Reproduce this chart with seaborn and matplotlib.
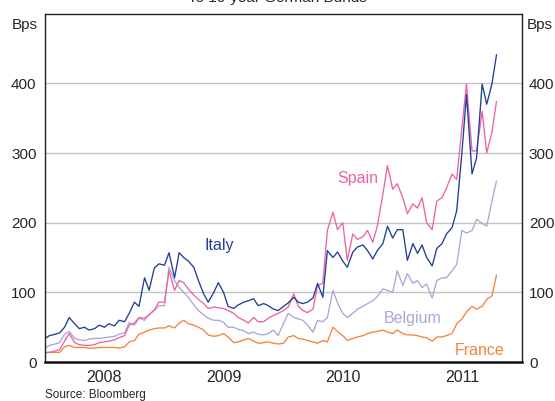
import pandas as pd
import matplotlib.pyplot as plt
import matplotlib.dates as mdates
import seaborn as sns

# Spreads to 10-year German Bunds (bps), half-monthly readings
datas = pd.date_range('2008-01-01', periods=92, freq='SMS')

italia = [34, 38, 40, 42, 50, 64, 55, 48, 50, 46, 48, 53, 50, 55, 52, 60, 58, 70, 86, 80,
          121, 103, 135, 141, 139, 157, 121, 157, 150, 145, 136, 117, 98, 86, 100, 114, 100, 80, 77, 82,
          86, 88, 91, 81, 84, 81, 76, 74, 80, 85, 93, 86, 84, 86, 92, 113, 93, 160, 150, 158,
          145, 136, 158, 165, 168, 160, 148, 160, 170, 195, 178, 190, 190, 146, 170, 156, 168, 150, 138, 163,
          170, 184, 193, 217, 300, 384, 270, 293, 399, 370, 399, 441]
espanha = [14, 14, 16, 18, 30, 41, 28, 25, 24, 24, 25, 28, 29, 30, 32, 35, 38, 53, 56, 64,
           63, 68, 75, 86, 86, 131, 103, 117, 114, 105, 96, 90, 84, 77, 79, 78, 77, 74, 70, 64,
           60, 56, 64, 58, 58, 63, 67, 70, 74, 79, 98, 80, 74, 71, 76, 110, 113, 189, 215, 190,
           200, 146, 184, 176, 180, 189, 172, 195, 241, 282, 248, 256, 236, 213, 227, 221, 236, 200, 190, 231,
           236, 250, 270, 262, 336, 399, 303, 303, 360, 300, 330, 374]
belgica = [20, 24, 26, 28, 40, 44, 34, 32, 31, 33, 34, 34, 35, 36, 37, 40, 42, 57, 53, 63,
           60, 68, 74, 81, 81, 136, 117, 107, 100, 93, 82, 74, 68, 63, 60, 60, 57, 50, 50, 47,
           45, 41, 43, 40, 39, 41, 46, 38, 56, 70, 64, 62, 60, 53, 43, 60, 58, 64, 103, 85,
           70, 64, 70, 76, 80, 84, 88, 94, 105, 103, 100, 131, 110, 127, 113, 117, 107, 112, 92, 117,
           121, 121, 131, 140, 189, 185, 189, 205, 199, 195, 231, 260]
franca = [13, 14, 14, 14, 22, 24, 21, 21, 21, 20, 20, 21, 21, 21, 21, 20, 22, 29, 31, 40,
          43, 46, 48, 49, 49, 52, 49, 56, 60, 55, 53, 50, 46, 39, 37, 38, 41, 36, 28, 29,
          32, 34, 30, 27, 28, 29, 27, 26, 27, 36, 38, 34, 33, 31, 29, 27, 31, 29, 50, 44,
          38, 31, 34, 36, 38, 41, 43, 44, 46, 43, 41, 46, 41, 39, 39, 38, 36, 35, 30, 36,
          36, 38, 41, 55, 62, 72, 80, 76, 80, 90, 95, 125]

paises = ['Italy', 'Spain', 'Belgium', 'France']
cores = {'Italy': '#1f3f97', 'Spain': '#ef62a3', 'Belgium': '#aaa7d6', 'France': '#f5833a'}

df = pd.DataFrame({'Data': datas, 'Italy': italia, 'Spain': espanha,
                   'Belgium': belgica, 'France': franca})
df = df.melt(id_vars='Data', var_name='Pais', value_name='Bps')

sns.set_style('white')
plt.rcParams['font.family'] = ['Liberation Sans', 'DejaVu Sans']

fig = plt.figure(figsize=(5.55, 4.01), dpi=100)
ax = fig.add_axes([0.081, 0.097, 0.8595, 0.869])

sns.lineplot(data=df, x='Data', y='Bps', hue='Pais', hue_order=paises[::-1],
             palette=cores, linewidth=0.95, legend=False, ax=ax)

ax.set_xlim(pd.Timestamp('2008-01-01'), pd.Timestamp('2012-01-01'))
ax.set_ylim(0, 500)
ax.set_yticks([0, 100, 200, 300, 400])
ax.yaxis.grid(True, color='#c4c4c4', linewidth=1.0)
ax.set_axisbelow(True)
ax.set_xlabel('')
ax.set_ylabel('')

ax.xaxis.set_major_locator(mdates.YearLocator())
ax.xaxis.set_major_formatter(plt.NullFormatter())
ax.xaxis.set_minor_locator(mdates.MonthLocator(bymonth=7))
ax.xaxis.set_minor_formatter(mdates.DateFormatter('%Y'))
ax.tick_params(axis='x', which='major', direction='in', length=7, width=1, color='#333333')
ax.tick_params(axis='x', which='minor', length=0, labelsize=11.5, pad=6)
ax.tick_params(axis='y', length=0, labelsize=11, pad=6)

for lado in ['top', 'left', 'right']:
    ax.spines[lado].set_linewidth(1.0)
    ax.spines[lado].set_color('#222222')
ax.spines['bottom'].set_linewidth(1.8)
ax.spines['bottom'].set_color('#111111')

ax2 = ax.twinx()
ax2.set_ylim(0, 500)
ax2.set_yticks([0, 100, 200, 300, 400])
ax2.tick_params(axis='y', length=0, labelsize=11, pad=5)
for lado in ['top', 'bottom', 'left', 'right']:
    ax2.spines[lado].set_visible(False)

# rotulos das series
ax.text(pd.Timestamp('2009-06-17'), 167, 'Italy', color=cores['Italy'], fontsize=11.5, ha='center', va='center')
ax.text(pd.Timestamp('2010-08-16'), 263, 'Spain', color=cores['Spain'], fontsize=11.5, ha='center', va='center')
ax.text(pd.Timestamp('2011-01-31'), 63, 'Belgium', color=cores['Belgium'], fontsize=11.5, ha='center', va='center')
ax.text(pd.Timestamp('2011-08-25'), 17, 'France', color=cores['France'], fontsize=11.5, ha='center', va='center')

fig.text(0.5, 1 - 5 / 401, 'To 10-year German Bunds', ha='center', va='bottom', fontsize=11)
fig.text(38 / 555, 1 - 25 / 401, 'Bps', ha='right', va='center', fontsize=11)
fig.text(527 / 555, 1 - 25 / 401, 'Bps', ha='left', va='center', fontsize=11)
fig.text(45 / 555, 1 - 395 / 401, 'Source: Bloomberg', ha='left', va='center', fontsize=8.5)

plt.savefig('out.png', dpi=100)
